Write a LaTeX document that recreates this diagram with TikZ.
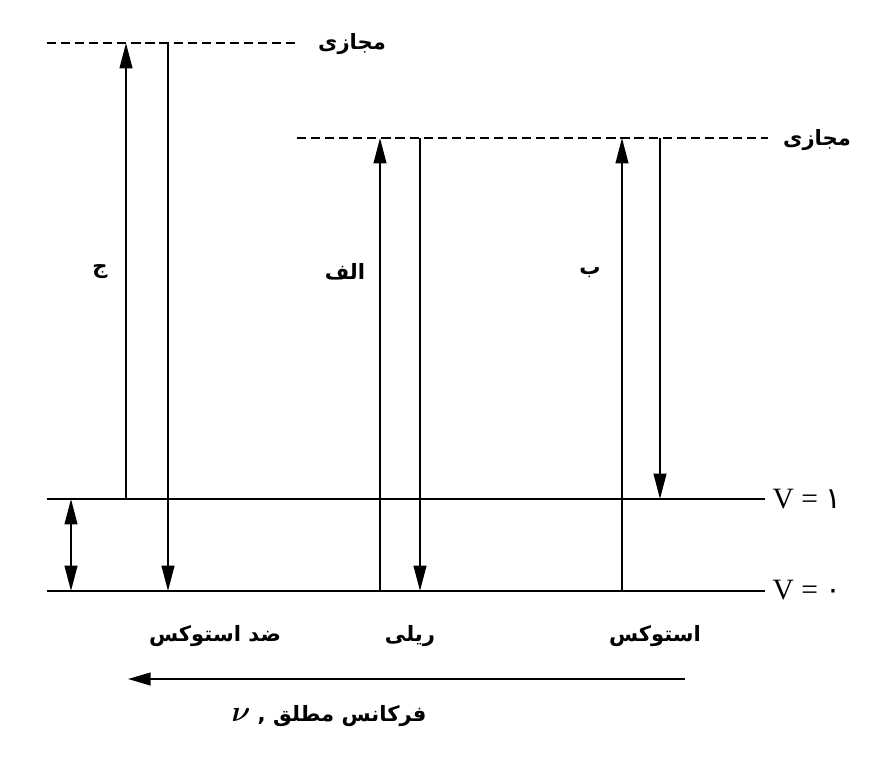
\documentclass[tikz,border=0pt]{standalone}
\usepackage{fontspec}
\usepackage{bm}
\setmainfont{Liberation Serif}
\newfontfamily\arabicfont[Script=Arabic]{DejaVu Sans}
\TeXXeTstate=1
\usetikzlibrary{arrows.meta}
\begin{document}
\begin{tikzpicture}[x=0.025cm,y=-0.025cm,
	level/.style={line width=1.5pt},
	virt/.style={line width=1.5pt,dash pattern=on 6.5pt off 3.5pt},
	ray/.style={line width=1.4pt,-{Triangle[length=18pt,width=9pt]}},
	fa/.style={font=\arabicfont\bfseries\fontsize{15}{18}\selectfont},
	vlab/.style={font=\fontsize{21}{24}\selectfont}]
	\useasboundingbox (0,0) rectangle (895,759);
	% levels
	\draw[virt] (47,43) -- (297,43);
	\draw[virt] (297,138) -- (768,138);
	\draw[level] (47,499) -- (765,499);
	\draw[level] (47,591) -- (765,591);
	\node[fa] (v1) at (352,44) {\beginR مجازی\endR};
	\node[fa] (v2) at (817,140) {\beginR مجازی\endR};
	\node[vlab] (n1) at (807,499) {V = {\arabicfont ۱}};
	\node[vlab] (n0) at (807,590) {V = {\arabicfont ۰}};
	% transitions
	\draw[ray] (126,499) -- (126,43);
	\draw[ray] (168,43) -- (168,591);
	\draw[ray,{Triangle[length=18pt,width=9pt]}-{Triangle[length=18pt,width=9pt]}] (71,499) -- (71,591);
	\draw[ray] (380,591) -- (380,138);
	\draw[ray] (420,138) -- (420,591);
	\draw[ray] (622,591) -- (622,138);
	\draw[ray] (660,138) -- (660,499);
	\node[fa] (c) at (100,272) {\beginR ج\endR};
	\node[fa] (a) at (345,272) {\beginR الف\endR};
	\node[fa] (b) at (590,273) {\beginR ب\endR};
	\node[fa] (as) at (215,636) {\beginR ضد استوکس\endR};
	\node[fa] (r) at (410,636) {\beginR ریلی\endR};
	\node[fa] (s) at (655,636) {\beginR استوکس\endR};
	% frequency
	\draw[line width=1.5pt,-{Triangle[length=16pt,width=9pt]}] (685,679) -- (128,679);
	\node[fa] (f) at (329,716) {{\fontsize{20}{20}\selectfont$\bm{\nu}$} , \beginR فرکانس مطلق\endR};
\end{tikzpicture}
\end{document}
